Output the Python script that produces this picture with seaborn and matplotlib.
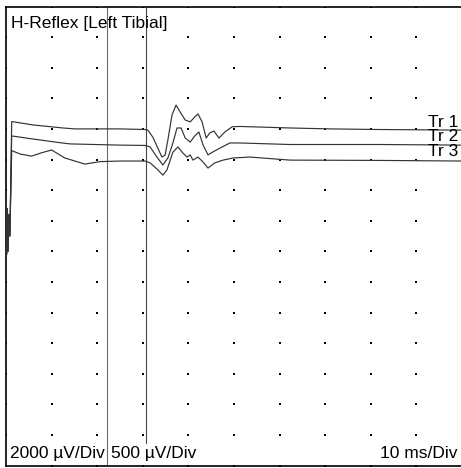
import matplotlib
matplotlib.use("Agg")
import matplotlib.pyplot as plt
import seaborn as sns
import numpy as np
import pandas as pd

# ---- data (time in ms, vertical position in screen divisions, 0 = bottom) ----
spike_t = [0.0, 0.15, 0.3, 0.45, 0.6, 0.85]
spike_d = [8.6, 6.9, 8.4, 7.0, 8.2, 7.5]

tr1_t = [1.25, 5.9, 12.5, 15.1, 25.0, 30.5, 31.1, 32.2, 33.3, 34.2, 34.9, 35.5, 36.4, 37.3,
         38.2, 39.3, 40.4, 41.4, 42.1, 43.0, 43.9, 44.7, 45.6, 46.7, 48.0, 49.6, 51.3, 55.7,
         62.3, 71.1, 82.0, 99.8]
tr1_d = [11.24, 11.13, 11.03, 11.00, 11.00, 10.98, 10.96, 10.73, 10.37, 10.08, 10.15, 10.64,
         11.45, 11.78, 11.55, 11.29, 11.23, 11.39, 11.49, 11.23, 10.70, 10.87, 10.93, 10.70,
         10.90, 11.07, 11.08, 11.06, 11.03, 11.00, 10.98, 10.96]

tr2_t = [1.25, 5.9, 11.8, 14.0, 25.0, 30.5, 31.6, 33.1, 34.4, 35.5, 36.6, 37.5, 38.4, 39.3,
         40.4, 41.4, 42.3, 43.2, 44.3, 45.4, 47.4, 49.1, 51.3, 62.3, 82.0, 99.8]
tr2_d = [10.77, 10.67, 10.55, 10.51, 10.47, 10.46, 10.41, 10.08, 9.82, 10.05, 10.54, 11.03,
         11.03, 10.70, 10.57, 10.77, 10.90, 10.48, 10.15, 10.25, 10.41, 10.54, 10.54, 10.49,
         10.49, 10.47]

tr3_t = [1.25, 3.1, 5.6, 7.8, 10.0, 12.9, 17.3, 20.6, 25.0, 30.5, 31.6, 33.1, 34.4, 35.3,
         36.6, 37.7, 38.8, 39.7, 40.4, 41.0, 42.1, 43.2, 44.3, 45.8, 47.6, 49.8, 53.5, 62.3,
         82.0, 99.8]
tr3_d = [10.29, 10.18, 10.11, 10.22, 10.31, 10.05, 9.85, 9.93, 9.95, 9.95, 9.89, 9.69, 9.49,
         9.66, 10.24, 10.41, 10.21, 10.08, 10.15, 9.98, 10.08, 9.92, 9.72, 9.89, 9.98, 10.05,
         10.08, 9.98, 9.97, 9.95]

trace_names = ["Tr 1", "Tr 2", "Tr 3"]
label_y = [11.05, 10.59, 10.13]

cursor_t = [22.15, 30.64]
cursor_ymin = [0.0, 0.74]

title = "H-Reflex [Left Tibial]"
bottom_labels = ["2000 µV/Div", "500 µV/Div", "10 ms/Div"]

n_xdiv, n_ydiv = 10, 15

# ---- build frames ----
rows = []
for name, tt, dd in zip(trace_names, [tr1_t, tr2_t, tr3_t], [tr1_d, tr2_d, tr3_d]):
    for t, d in zip(spike_t + tt, spike_d + dd):
        rows.append((name, t, d))
df = pd.DataFrame(rows, columns=["trace", "t", "d"])

gx, gy = np.meshgrid(np.arange(n_xdiv + 1) * 10.0, np.arange(n_ydiv + 1) * 1.0)
grid_df = pd.DataFrame({"x": gx.ravel(), "y": gy.ravel()})

# ---- plot ----
sns.set_style("white")
plt.rcParams["font.family"] = ["Liberation Sans", "DejaVu Sans"]

fig = plt.figure(figsize=(4.61, 4.68), dpi=100)
ax = fig.add_axes([6 / 461, (468 - 465.5) / 468, 456 / 461, 459 / 468])

sns.scatterplot(data=grid_df, x="x", y="y", ax=ax, marker="s", s=1.6, color="black",
                linewidth=0, legend=False, zorder=1)

cursor_colors = ["#6a6a6a", "#444444"]
for i, c in enumerate(cursor_t):
    ax.axvline(c, ymin=cursor_ymin[i] / n_ydiv, ymax=1, color=cursor_colors[i], lw=0.8, zorder=2)

for name in trace_names:
    sub = df[df["trace"] == name]
    sns.lineplot(data=sub, x="t", y="d", ax=ax, sort=False, estimator=None,
                 color="#333333", lw=0.85, zorder=3)

fs = 12.5
for name, y in zip(trace_names, label_y):
    ax.text(99.2, y, name, ha="right", va="baseline", fontsize=fs, color="black", zorder=4)

ax.text(1.1, 14.3, title, ha="left", va="baseline", fontsize=fs, color="black")
ax.text(0.88, 0.245, bottom_labels[0], ha="left", va="baseline", fontsize=fs, color="black")
ax.text(23.0, 0.245, bottom_labels[1], ha="left", va="baseline", fontsize=fs, color="black")
ax.text(99.1, 0.245, bottom_labels[2], ha="right", va="baseline", fontsize=fs, color="black")

ax.set_xlim(0, 100)
ax.set_ylim(0, n_ydiv)
ax.set_xticks([])
ax.set_yticks([])
ax.set_xlabel("")
ax.set_ylabel("")
for side in ["left", "top", "bottom"]:
    ax.spines[side].set_color("black")
    ax.spines[side].set_linewidth(1.2)
    ax.spines[side].set_visible(True)
ax.spines["right"].set_visible(False)

fig.savefig("out.png", dpi=100)
